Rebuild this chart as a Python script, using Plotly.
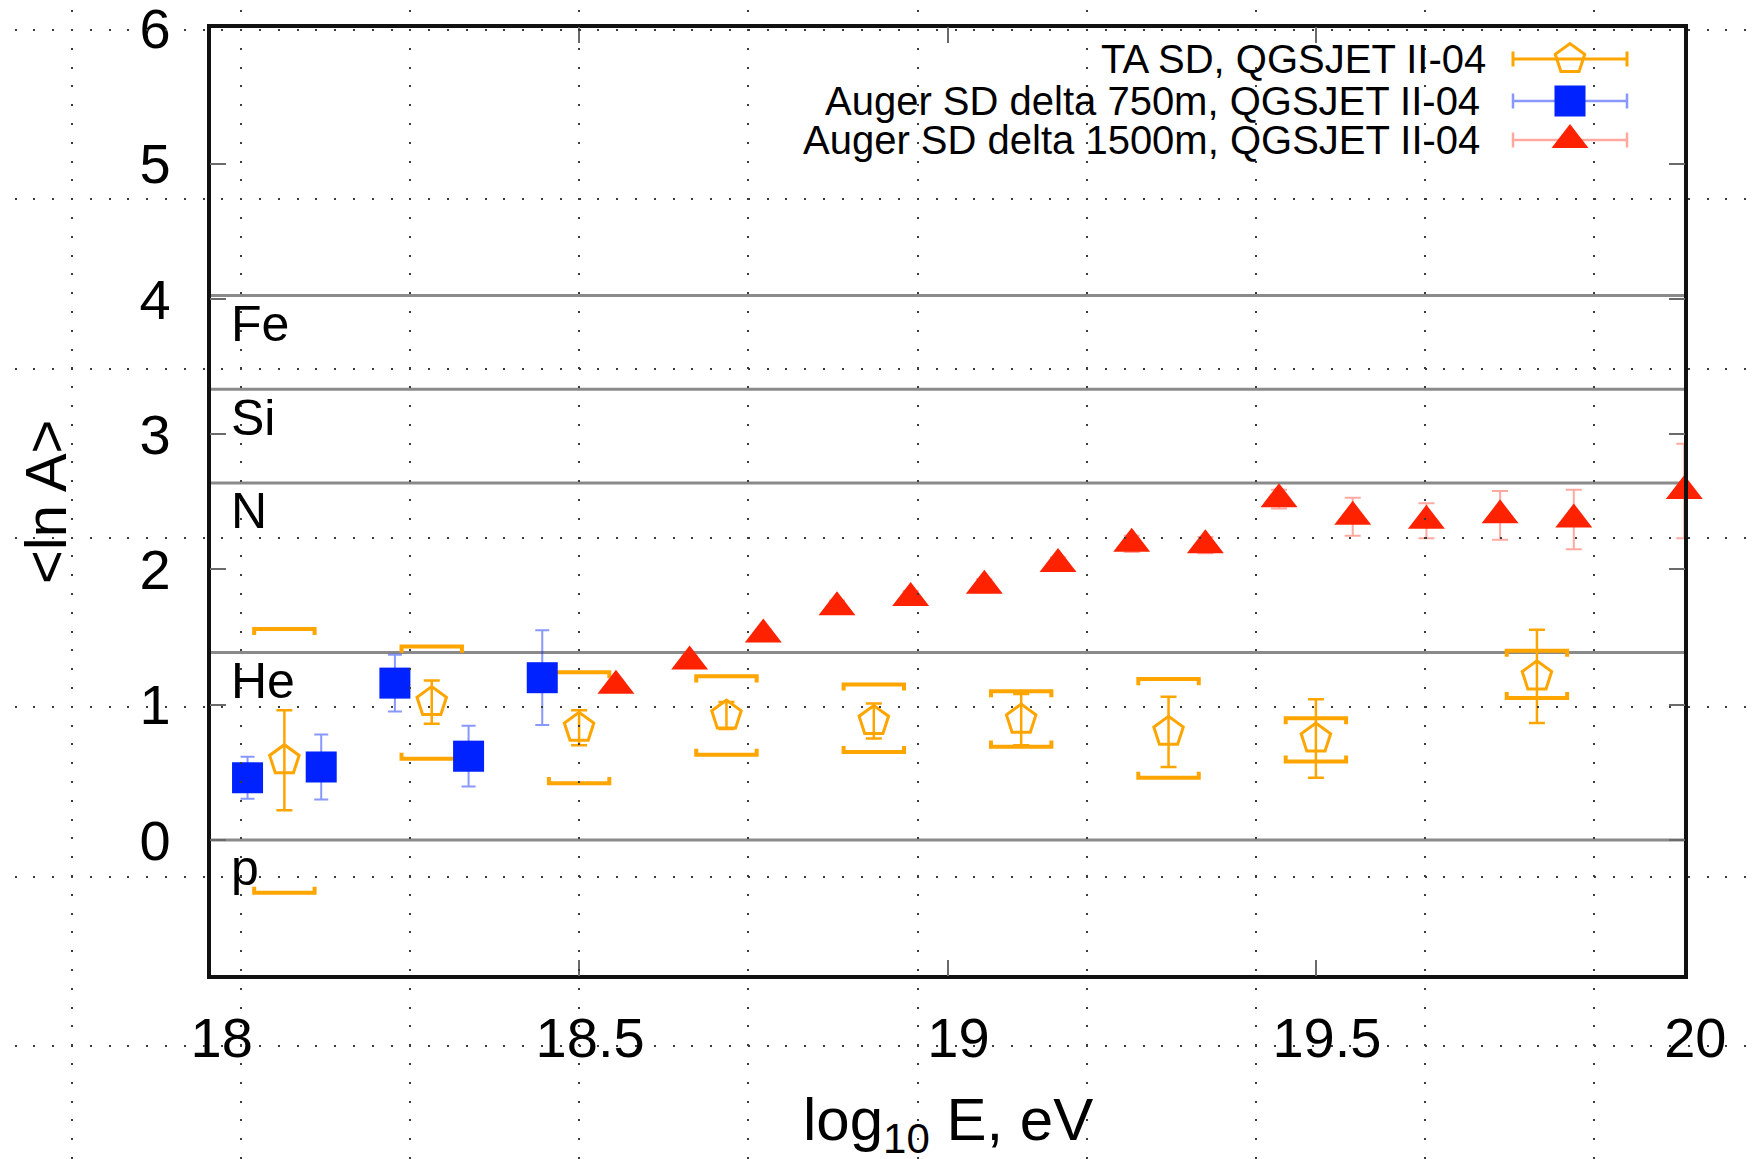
import plotly.graph_objects as go

W, H = 1752, 1159
FONT = "Liberation Sans, Arial, Helvetica, sans-serif"

# ---- data -----------------------------------------------------------------
# TA SD, QGSJET II-04
ta_E = [18.1, 18.3, 18.5, 18.7, 18.9, 19.1, 19.3, 19.5, 19.8]
ta_lnA = [0.59, 1.02, 0.83, 0.92, 0.88, 0.89, 0.80, 0.75, 1.21]
ta_stat = [0.37, 0.16, 0.13, 0.10, 0.13, 0.19, 0.26, 0.29, 0.345]
ta_sys_hi = [1.56, 1.43, 1.24, 1.21, 1.15, 1.10, 1.19, 0.90, 1.40]
ta_sys_lo = [-0.39, 0.60, 0.42, 0.63, 0.65, 0.69, 0.46, 0.58, 1.05]

# Auger SD delta method, 750 m array, QGSJET II-04
a750_E = [18.05, 18.15, 18.25, 18.35, 18.45]
a750_lnA = [0.46, 0.54, 1.16, 0.62, 1.20]
a750_err = [0.155, 0.24, 0.21, 0.225, 0.35]

# Auger SD delta method, 1500 m array, QGSJET II-04
a1500_E = [18.55, 18.65, 18.75, 18.85, 18.95, 19.05, 19.15, 19.25, 19.35,
           19.45, 19.55, 19.65, 19.75, 19.85, 20.0]
a1500_lnA = [1.14, 1.32, 1.52, 1.72, 1.79, 1.88, 2.04, 2.19, 2.18,
             2.52, 2.39, 2.36, 2.40, 2.37, 2.58]
a1500_err = [0.04, 0.04, 0.04, 0.05, 0.05, 0.05, 0.05, 0.06, 0.06,
             0.07, 0.14, 0.13, 0.18, 0.22, 0.35]

# reference nuclei
nuclei = ["p", "He", "N", "Si", "Fe"]
nuclei_lnA = [0.0, 1.386, 2.639, 3.332, 4.025]

x_ticks = [18, 18.5, 19, 19.5, 20]
x_ticktext = ["18", "18.5", "19", "19.5", "20"]
y_ticks = [0, 1, 2, 3, 4, 5, 6]

legend_names = ["TA SD, QGSJET II-04",
                "Auger SD delta 750m, QGSJET II-04",
                "Auger SD delta 1500m, QGSJET II-04"]

# ---- styles -----------------------------------------------------------------
ORANGE = "#ffa500"
BLUE = "#0022ff"
BLUE_ERR = "rgba(20,50,255,0.5)"
RED = "#ff2200"
RED_ERR = "rgba(255,40,20,0.4)"

# plot frame in pixels
PX_L, PX_R, PX_T, PX_B = 209, 1686, 26, 977

fig = go.Figure()

# systematic brackets for TA
BR_HALF = 0.041   # half width in log10 E
BR_END = 0.045    # bracket end length in ln A
bx, by = [], []
for e, hi, lo in zip(ta_E, ta_sys_hi, ta_sys_lo):
    bx += [e - BR_HALF, e - BR_HALF, e + BR_HALF, e + BR_HALF, None]
    by += [hi - BR_END, hi, hi, hi - BR_END, None]
    bx += [e - BR_HALF, e - BR_HALF, e + BR_HALF, e + BR_HALF, None]
    by += [lo + BR_END, lo, lo, lo + BR_END, None]
fig.add_trace(go.Scatter(x=bx, y=by, mode="lines",
                         line=dict(color=ORANGE, width=4),
                         hoverinfo="skip", showlegend=False))

fig.add_trace(go.Scatter(
    x=ta_E, y=ta_lnA, mode="markers", name=legend_names[0],
    marker=dict(symbol="pentagon-open", size=31, color=ORANGE,
                line=dict(color=ORANGE, width=3)),
    error_y=dict(type="data", array=ta_stat, color=ORANGE,
                 thickness=2.5, width=8),
    showlegend=False))

fig.add_trace(go.Scatter(
    x=a750_E, y=a750_lnA, mode="markers", name=legend_names[1],
    marker=dict(symbol="square", size=31, color=BLUE, line=dict(width=0)),
    error_y=dict(type="data", array=a750_err, color=BLUE_ERR,
                 thickness=2, width=7),
    showlegend=False))

fig.add_trace(go.Scatter(
    x=a1500_E, y=a1500_lnA, mode="markers", name=legend_names[2],
    marker=dict(symbol="triangle-up", size=32, color=RED, line=dict(width=0)),
    error_y=dict(type="data", array=a1500_err, color=RED_ERR,
                 thickness=2, width=8),
    cliponaxis=False, showlegend=False))

# reference lines for nuclei
for name, v in zip(nuclei, nuclei_lnA):
    fig.add_shape(type="line", xref="x domain", yref="y", x0=0, x1=1,
                  y0=v, y1=v, line=dict(color="#8a8a8a", width=3),
                  layer="below")
    fig.add_annotation(x=18.025, y=v - 0.21, xref="x", yref="y",
                       text=name, showarrow=False, xanchor="left",
                       yanchor="middle",
                       font=dict(family=FONT, size=50, color="black"))

# ---- key (drawn in page pixel space) ----------------------------------------
KEY_X = 1570
KEY_ROWS = [59, 101, 140]
KEY_HALF = 57
key_styles = [
    dict(marker=dict(symbol="pentagon-open", size=31, color=ORANGE,
                     line=dict(color=ORANGE, width=3)), err=ORANGE, th=3),
    dict(marker=dict(symbol="square", size=31, color=BLUE,
                     line=dict(width=0)), err=BLUE_ERR, th=2.5),
    dict(marker=dict(symbol="triangle-up", size=32, color=RED,
                     line=dict(width=0)), err=RED_ERR, th=2.5),
]
key_text_right = [1488, 1482, 1482]
for row_y, st, label, xr in zip(KEY_ROWS, key_styles, legend_names,
                                key_text_right):
    fig.add_trace(go.Scatter(
        x=[KEY_X], y=[row_y], xaxis="x2", yaxis="y2", mode="markers",
        marker=st["marker"],
        error_x=dict(type="constant", value=KEY_HALF, color=st["err"],
                     thickness=st["th"], width=7.5),
        hoverinfo="skip", showlegend=False))
    fig.add_annotation(x=xr / W, y=1 - row_y / H, xref="paper",
                       yref="paper", text=label, showarrow=False,
                       xanchor="right", yanchor="middle",
                       font=dict(family=FONT, size=40, color="black"))

# axis titles
fig.add_annotation(x=45 / W, y=1 - 502 / H, xref="paper", yref="paper",
                   text="&lt;ln A&gt;", textangle=-90, showarrow=False,
                   xanchor="center", yanchor="middle",
                   font=dict(family=FONT, size=58, color="black"))
fig.add_annotation(x=948 / W, y=1 - 1124 / H, xref="paper", yref="paper",
                   text="log<sub>10</sub> E, eV", showarrow=False,
                   xanchor="center", yanchor="middle",
                   font=dict(family=FONT, size=60, color="black"))

frame_axis = dict(showline=True, linewidth=3.5, linecolor="#111111",
                  mirror="ticks", ticks="inside", ticklen=16, tickwidth=1.5,
                  tickcolor="#6a6a6a", showgrid=False, zeroline=False,
                  automargin=False, ticklabeloverflow="allow",
                  tickfont=dict(family=FONT, size=56, color="black"))

# dotted page grid spanning the whole canvas
page_axis = dict(domain=[0, 1], showticklabels=False, ticks="",
                 zeroline=False, showline=False, showgrid=True,
                 automargin=False, gridcolor="#3c3c3c", gridwidth=2)

fig.update_layout(
    width=W, height=H, autosize=False,
    margin=dict(l=0, r=0, t=0, b=0, pad=0, autoexpand=False),
    paper_bgcolor="white", plot_bgcolor="rgba(0,0,0,0)",
    xaxis=dict(frame_axis, domain=[(PX_L + 1.7) / W, (PX_R - 1.7) / W],
               range=[18, 20], tickvals=x_ticks, ticktext=x_ticktext,
               ticklabelshift=11, ticklabelstandoff=11),
    yaxis=dict(frame_axis, domain=[1 - (PX_B - 1.7) / H, 1 - (PX_T + 1.7) / H],
               range=[-1, 6.005], tickvals=y_ticks, ticklabelstandoff=25),
    xaxis2=dict(page_axis, anchor="y2", range=[0, W], tick0=72,
                dtick=169.1, griddash="0px,10.2px,2px,6.6px"),
    yaxis2=dict(page_axis, anchor="x2", range=[H, 0], tick0=30,
                dtick=169.3, griddash="0px,14.6px,2px,2.2px"),
)

fig.write_html("out.html")
